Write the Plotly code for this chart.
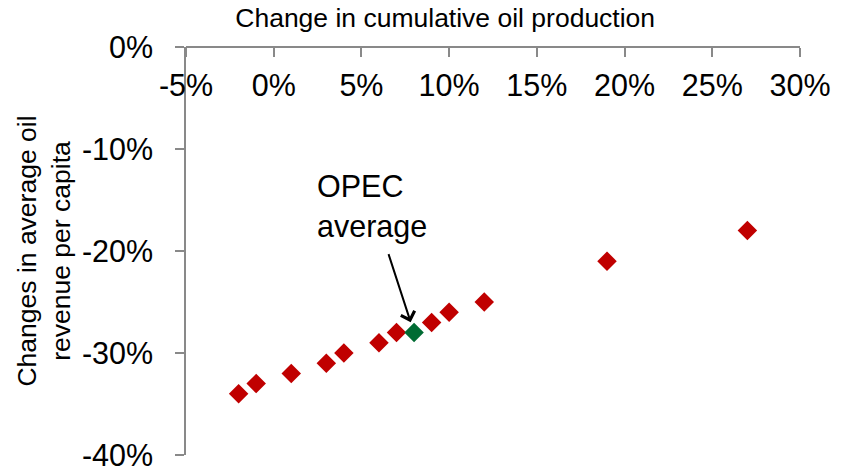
import plotly.graph_objects as go

# Change in cumulative oil production (%) and change in average oil revenue per capita (%)
production_change = [-2, -1, 1, 3, 4, 6, 7, 9, 10, 12, 19, 27]
revenue_change = [-34, -33, -32, -31, -30, -29, -28, -27, -26, -25, -21, -18]

# OPEC average
opec_production = [8]
opec_revenue = [-28]

x_ticks = [-5, 0, 5, 10, 15, 20, 25, 30]
y_ticks = [0, -10, -20, -30, -40]

FONT = "Arial, Liberation Sans, sans-serif"
AXIS_GREY = "#898989"
RED = "#C00000"
GREEN = "#006B33"

fig = go.Figure()

fig.add_trace(go.Scatter(
    x=production_change, y=revenue_change, mode="markers",
    marker=dict(symbol="diamond", size=15, color=RED, line=dict(width=0)),
    showlegend=False, hoverinfo="skip",
))
fig.add_trace(go.Scatter(
    x=opec_production, y=opec_revenue, mode="markers",
    marker=dict(symbol="diamond", size=15, color=GREEN, line=dict(width=0)),
    showlegend=False, hoverinfo="skip",
))

fig.update_layout(
    width=848, height=474,
    margin=dict(l=186, r=48, t=47, b=19, autoexpand=False),
    paper_bgcolor="white", plot_bgcolor="white",
    font=dict(family=FONT, color="black"),
    title=dict(
        text="Change in cumulative oil production",
        font=dict(size=26.5, family=FONT, color="black"),
        x=0.525, xanchor="center", y=0.962, yanchor="middle",
    ),
    xaxis=dict(
        range=[-5, 30], anchor="free", position=1, side="bottom",
        tickvals=x_ticks, ticktext=[f"{v}%" for v in x_ticks],
        ticks="outside", ticklen=9, tickwidth=1.5, tickcolor=AXIS_GREY,
        showline=True, linecolor=AXIS_GREY, linewidth=1.5,
        showgrid=False, zeroline=False,
        tickfont=dict(size=30.5, family=FONT, color="black"),
        ticklabelstandoff=3, ticklabeloverflow="allow",
    ),
    yaxis=dict(
        range=[-40, 0],
        tickvals=y_ticks, ticktext=[f"{v}%" for v in y_ticks],
        ticks="outside", ticklen=9, tickwidth=1.5, tickcolor=AXIS_GREY,
        showline=True, linecolor=AXIS_GREY, linewidth=1.5,
        showgrid=False, zeroline=False,
        tickfont=dict(size=30.5, family=FONT, color="black"),
        ticklabelstandoff=16, ticklabeloverflow="allow",
    ),
    annotations=[
        # y-axis title
        dict(
            text="Changes in average oil<br>revenue per capita",
            xref="paper", yref="paper", x=-0.232, y=0.5,
            xanchor="center", yanchor="middle", textangle=-90,
            showarrow=False, font=dict(size=26.5, family=FONT, color="black"),
        ),
        # label for the OPEC average point
        dict(
            text="OPEC<br>average", align="left",
            x=opec_production[0], y=opec_revenue[0], xref="x", yref="y",
            xanchor="left", yanchor="middle", xshift=-99, yshift=126,
            showarrow=False, font=dict(size=30.5, family=FONT, color="black"),
        ),
        # arrow pointing at the OPEC average point
        dict(
            text="", x=opec_production[0], y=opec_revenue[0], xref="x", yref="y",
            ax=-26, ay=-80, showarrow=True, arrowhead=4, arrowsize=1.4,
            arrowwidth=2, arrowcolor="black", standoff=11,
        ),
    ],
)

fig.write_html("out.html")
